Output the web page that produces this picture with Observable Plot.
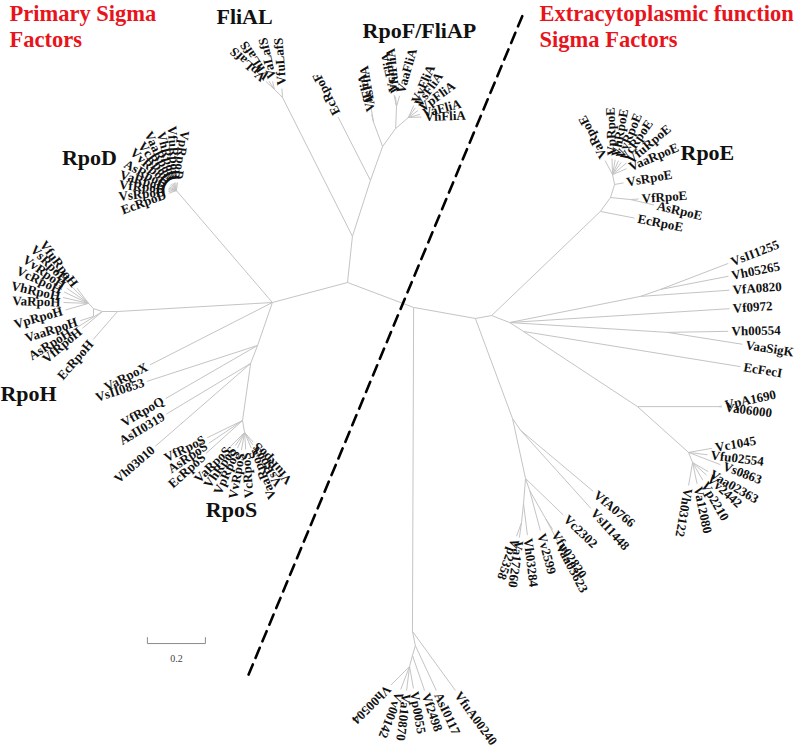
<!DOCTYPE html>
<html><head><meta charset="utf-8">
<script src="https://cdn.jsdelivr.net/npm/d3@7"></script>
<script src="https://cdn.jsdelivr.net/npm/@observablehq/plot@0.6"></script>
<style>body{margin:0;background:#fff}</style>
</head><body><div id="chart"></div>
<script>
// Tree layout, in branch-length units (scale bar = 0.2)
// internal nodes: [id, parent, x, y]  (y grows downward)
const internalNodes = [
  ["C0", null, 0, 0],
  ["N1", "C0", 0.017, -0.159],
  ["La", "N1", -0.224, -0.638],
  ["Lb", "La", -0.252, -0.666],
  ["N2", "N1", 0.079, -0.352],
  ["N3", "N2", 0.121, -0.469],
  ["N3a", "N3", 0.090, -0.552],
  ["N4", "N3", 0.166, -0.531],
  ["N4a", "N4", 0.169, -0.607],
  ["N4b", "N4", 0.210, -0.569],
  ["L1", "C0", -0.259, 0.069],
  ["Dn", "L1", -0.590, -0.317],
  ["Hn1", "L1", -0.793, 0.100],
  ["Hn5", "Hn1", -0.845, 0.100],
  ["Hn2", "Hn5", -0.876, 0.090],
  ["Hn3", "Hn2", -0.893, 0.072],
  ["Hn4", "Hn2", -0.876, 0.117],
  ["Ls1", "L1", -0.310, 0.217],
  ["Ls2", "Ls1", -0.334, 0.279],
  ["Ls3", "Ls2", -0.362, 0.476],
  ["Ls5", "Ls3", -0.355, 0.517],
  ["R1", "C0", 0.228, 0.086],
  ["R2", "R1", 0.441, 0.124],
  ["R3", "R2", 0.497, 0.114],
  ["E1", "R3", 0.872, -0.245],
  ["E2", "E1", 0.907, -0.293],
  ["E2b", "E2", 0.976, -0.286],
  ["E3", "E2", 0.921, -0.338],
  ["E4", "E3", 0.914, -0.372],
  ["R4", "R3", 0.559, 0.138],
  ["Ra", "R4", 1.010, 0.048],
  ["Rb", "Ra", 1.079, 0.024],
  ["Rc", "R4", 1.103, 0.172],
  ["R5", "R4", 0.607, 0.169],
  ["Rd", "R5", 1.000, 0.428],
  ["Rp", "Rd", 1.279, 0.428],
  ["Re", "Rd", 1.176, 0.586],
  ["Re2", "Re", 1.190, 0.621],
  ["Rf", "R2", 0.569, 0.469],
  ["Rh", "Rf", 0.597, 0.510],
  ["Rg", "Rf", 0.614, 0.676],
  ["Rk", "Rg", 0.628, 0.717],
  ["Rm", "Rk", 0.683, 0.814],
  ["Rj", "Rg", 0.607, 0.762],
  ["Rn", "Rj", 0.600, 0.828],
  ["Rv", "R1", 0.224, 1.203],
  ["Rx", "Rv", 0.234, 1.252],
  ["Ry", "Rx", 0.224, 1.286],
  ["Rz", "Ry", 0.214, 1.324]
];

// leaves: [name, parent, branch length, branch angle (deg, clockwise from east)]
const leaves = [
  ["VfuLafS", "La", 0.031, -94],
  ["VaLafS", "Lb", 0.028, -103],
  ["VhLafS", "Lb", 0.034, -124],
  ["VpLafS", "Lb", 0.040, -137],
  ["EcRpoF", "N2", 0.245, -117],
  ["VfFliA", "N3a", 0.028, -104],
  ["AsFliA", "N3a", 0.052, -100],
  ["VcFliA", "N4a", 0.041, -102],
  ["VfuFliA", "N4a", 0.034, -96],
  ["VaaFliA", "N4a", 0.038, -74],
  ["VvFliA", "N4b", 0.045, -66],
  ["VsFliA", "N4b", 0.041, -54],
  ["VpFliA", "N4b", 0.041, -36],
  ["VaFliA", "N4b", 0.041, -15],
  ["VhFliA", "N4b", 0.045, -2],
  ["EcRpoD", "Dn", 0.028, 160],
  ["VsRpoD", "Dn", 0.028, 174],
  ["VfRpoD", "Dn", 0.028, 186],
  ["VaRpoD", "Dn", 0.028, 196],
  ["AsRpoD", "Dn", 0.028, 208],
  ["VvRpoD", "Dn", 0.028, 222],
  ["VcRpoD", "Dn", 0.028, 233],
  ["VaaRpoD", "Dn", 0.028, 244],
  ["VhRpoD", "Dn", 0.028, 255],
  ["VfuRpoD", "Dn", 0.028, 266],
  ["VpRpoD", "Dn", 0.028, 278],
  ["VfuRpoH", "Hn3", 0.066, 233],
  ["VsRpoH", "Hn3", 0.097, 225],
  ["VvRpoH", "Hn3", 0.091, 215],
  ["VcRpoH", "Hn3", 0.093, 205],
  ["VhRpoH", "Hn3", 0.090, 193],
  ["VaRpoH", "Hn3", 0.086, 182],
  ["VpRpoH", "Hn3", 0.083, 164],
  ["VaaRpoH", "Hn4", 0.048, 162],
  ["VfRpoH", "Hn5", 0.090, 140],
  ["AsRpoH", "Hn5", 0.120, 148],
  ["EcRpoH", "Hn1", 0.128, 131],
  ["VaRpoX", "L1", 0.474, 153],
  ["VsII0853", "Ls1", 0.401, 162],
  ["VfRpoQ", "Ls1", 0.366, 150],
  ["AsII0319", "Ls2", 0.339, 149],
  ["Vh03010", "Ls2", 0.435, 139],
  ["VfRpoS", "Ls3", 0.135, 154],
  ["AsRpoS", "Ls3", 0.140, 146],
  ["EcRpoS", "Ls3", 0.170, 138],
  ["VaRpoS", "Ls5", 0.069, 135],
  ["VhRpoS", "Ls5", 0.055, 125],
  ["VpRpoS", "Ls5", 0.059, 114],
  ["VvRpoS", "Ls5", 0.062, 100],
  ["VcRpoS", "Ls5", 0.059, 86],
  ["VaaRpoS", "Ls5", 0.059, 67],
  ["VsRpoS", "Ls5", 0.052, 57],
  ["VfuRpoS", "Ls5", 0.045, 48],
  ["EcRpoE", "E1", 0.120, 11],
  ["VfRpoE", "E2b", 0.028, -4],
  ["AsRpoE", "E2b", 0.083, 13],
  ["VsRpoE", "E3", 0.031, -10],
  ["VaaRpoE", "E4", 0.052, -23],
  ["VfuRpoE", "E4", 0.062, -40],
  ["VcRpoE", "E4", 0.052, -55],
  ["VvRpoE", "E4", 0.052, -67],
  ["VhRpoE", "E4", 0.052, -80],
  ["VpRpoE", "E4", 0.055, -92],
  ["VaRpoE", "E4", 0.055, -118],
  ["VsII1255", "Rb", 0.251, -21],
  ["Vh05265", "Rb", 0.239, -11],
  ["VfA0820", "Ra", 0.308, -4],
  ["Vf0972", "R4", 0.760, -3.6],
  ["Vh00554", "Rc", 0.210, -1],
  ["VaaSigK", "Rc", 0.262, 9],
  ["EcFecI", "R5", 0.758, 9.2],
  ["VpA1690", "Rp", 0.012, -12],
  ["Va06000", "Rp", 0.012, 7],
  ["Vc1045", "Re", 0.083, -10],
  ["Vfu02554", "Re", 0.066, 7],
  ["Vs0863", "Re", 0.118, 21],
  ["Vaa02363", "Re2", 0.062, 30],
  ["Vv2442", "Re2", 0.065, 42],
  ["Vp2210", "Re2", 0.070, 60],
  ["Va12080", "Re2", 0.075, 78],
  ["Vh03122", "Re2", 0.080, 100],
  ["VfA0766", "Rh", 0.326, 40],
  ["VsII1448", "Rh", 0.362, 48],
  ["Vc2302", "Rg", 0.181, 44],
  ["Vv2599", "Rk", 0.143, 75],
  ["Vfu02820", "Rm", 0.045, 57],
  ["Vaa03623", "Rm", 0.090, 62],
  ["Vh03284", "Rj", 0.110, 83],
  ["Va17260", "Rn", 0.052, 98],
  ["Vp2358", "Rn", 0.050, 110],
  ["VfuA00240", "Rv", 0.252, 54],
  ["AsI0117", "Rx", 0.171, 65],
  ["Vf2498", "Ry", 0.128, 71],
  ["Vp0055", "Rz", 0.077, 80],
  ["Va10870", "Rz", 0.084, 97],
  ["Vv00142", "Rz", 0.085, 111],
  ["Vh00504", "Rz", 0.090, 135]
];

const cladeLabels = [
  {name: "FliAL", x: -0.355, y: -0.917},
  {name: "RpoF/FliAP", x: 0.248, y: -0.869},
  {name: "RpoD", x: -0.890, y: -0.428},
  {name: "RpoE", x: 1.241, y: -0.445},
  {name: "RpoH", x: -1.100, y: 0.383},
  {name: "RpoS", x: -0.400, y: 0.783}
];

const dividerLine = [{x: -0.341, y: 1.352}, {x: 0.610, y: -0.936}];
const scaleBar = {x: -0.690, y: 1.245, len: 0.2, label: "0.2"};
const groupTitles = ["Primary Sigma\nFactors", "Extracytoplasmic function\nSigma Factors"];

// ---- build geometry from the tree ----
const rad = Math.PI / 180;
const gap = 0.011;
const pos = new Map();
internalNodes.forEach(([id, p, x, y]) => pos.set(id, {x, y}));
const links = [];
internalNodes.forEach(([id, p, x, y]) => {
  if (p) { const a = pos.get(p); links.push({x1: a.x, y1: a.y, x2: x, y2: y}); }
});
const tips = leaves.map(([name, p, len, ang]) => {
  const a = pos.get(p);
  const x = a.x + len * Math.cos(ang * rad), y = a.y + len * Math.sin(ang * rad);
  links.push({x1: a.x, y1: a.y, x2: x, y2: y});
  let phi = Math.atan2(y, x) / rad; if (phi < 0) phi += 360;
  const flip = phi > 95 && phi < 235;
  return {name, flip, rot: flip ? ang + 180 : ang,
    lx: x + gap * Math.cos(ang * rad), ly: y + gap * Math.sin(ang * rad)};
});
const scaleTicks = [scaleBar.x, scaleBar.x + scaleBar.len];

const leafFont = {fontFamily: "Liberation Serif", fontWeight: "bold", fontSize: 13, fill: "#111"};

const chart = Plot.plot({
  width: 800, height: 749, margin: 0,
  x: {domain: [-347 / 290, 453 / 290], axis: null},
  y: {domain: [-282 / 290, 467 / 290], reverse: true, axis: null},
  style: {background: "#fff"},
  marks: [
    Plot.link(links, {x1: "x1", y1: "y1", x2: "x2", y2: "y2", stroke: "#c4c4c4", strokeWidth: 1}),
    Plot.text(tips.filter(d => !d.flip), {x: "lx", y: "ly", text: "name", rotate: "rot", textAnchor: "start", ...leafFont}),
    Plot.text(tips.filter(d => d.flip), {x: "lx", y: "ly", text: "name", rotate: "rot", textAnchor: "end", ...leafFont}),
    Plot.text(cladeLabels, {x: "x", y: "y", text: "name", fontFamily: "Liberation Serif", fontWeight: "bold", fontSize: 22, fill: "#111"}),
    Plot.line(dividerLine, {x: "x", y: "y", stroke: "#000", strokeWidth: 2.6, strokeDasharray: "11,7"}),
    Plot.link([scaleBar], {x1: d => d.x, x2: d => d.x + d.len, y1: d => d.y, y2: d => d.y, stroke: "#8a8a8a", strokeWidth: 1}),
    Plot.link(scaleTicks, {x1: d => d, x2: d => d, y1: scaleBar.y, y2: scaleBar.y - 0.022, stroke: "#8a8a8a", strokeWidth: 1}),
    Plot.text([scaleBar], {x: d => d.x + d.len / 2, y: d => d.y, text: "label", dy: 15, fontFamily: "Liberation Serif", fontSize: 10, fill: "#444"}),
    Plot.text([groupTitles[0]], {text: d => d, frameAnchor: "top-left", dx: 9, dy: 2, textAnchor: "start", lineAnchor: "top", lineHeight: 1.15, fontFamily: "Liberation Serif", fontWeight: "bold", fontSize: 22.5, fill: "#e8141b"}),
    Plot.text([groupTitles[1]], {text: d => d, frameAnchor: "top-left", dx: 539, dy: 2, textAnchor: "start", lineAnchor: "top", lineHeight: 1.15, fontFamily: "Liberation Serif", fontWeight: "bold", fontSize: 22.5, fill: "#e8141b"})
  ]
});
document.getElementById("chart").appendChild(chart);
</script>
</body></html>
